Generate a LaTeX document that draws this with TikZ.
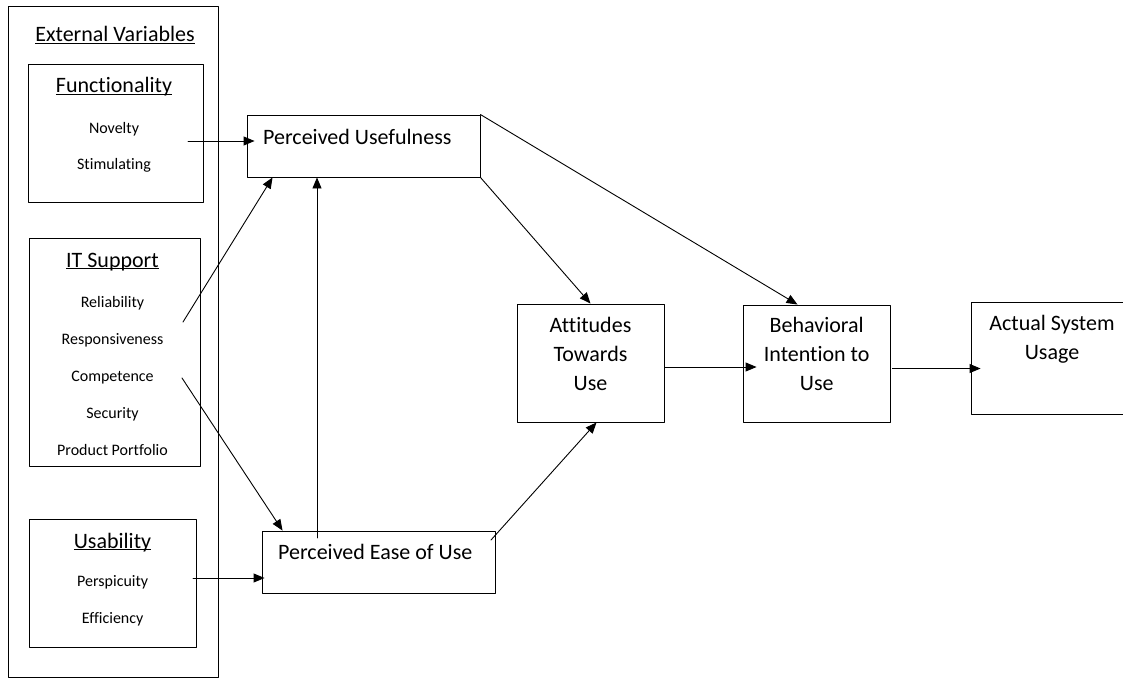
\documentclass[tikz,border=0pt]{standalone}
\usepackage{fontspec}
\setmainfont[Ligatures={NoCommon,NoContextual}]{Carlito}
\usetikzlibrary{arrows.meta,calc}
\newcommand{\undl}[1]{\underline{\smash{#1}}}
\begin{document}
\begin{tikzpicture}[x=1pt,y=-1pt,line join=round,line cap=round,>={Triangle[length=11pt,width=9pt]},
  box/.style={draw,line width=0.9pt,inner sep=0pt},
  big/.style={font=\fontsize{22pt}{29pt}\selectfont,inner sep=0pt,align=center},
  small/.style={font=\fontsize{16pt}{19pt}\selectfont,inner sep=0pt,anchor=base},
  arr/.style={->,line width=0.9pt}]
\useasboundingbox (0,0) rectangle (1123,682);
% external variables
\node[box,minimum width=210pt,minimum height=671pt] (ext) at (113,341.5) {};
\node[big,anchor=base] (extT) at (115,42) {\undl{External Variables}};
\node[box,minimum width=175pt,minimum height=138pt] (func) at (115.5,133) {};
\node[big,anchor=base] (funcT) at (114,93) {\undl{Functionality}};
\node[small] (nov) at (114,133) {Novelty};
\node[small] (stim) at (114,169) {Stimulating};
\node[box,minimum width=171pt,minimum height=228pt] (its) at (114.5,352) {};
\node[big,anchor=base] (itsT) at (112.5,267) {\undl{IT Support}};
\foreach \t [count=\i] in {Reliability,Responsiveness,Competence,Security,Product Portfolio}
  \node[small] (its\i) at (112.5,270+37*\i) {\t};
\node[box,minimum width=167pt,minimum height=128pt] (usa) at (112.5,583) {};
\node[big,anchor=base] (usaT) at (112.5,548) {\undl{Usability}};
\node[small] (persp) at (112.7,586) {Perspicuity};
\node[small] (effic) at (112.7,623) {Efficiency};
% TAM boxes
\node[box,minimum width=233pt,minimum height=62pt] (pu) at (363.5,146) {};
\node[big,anchor=base west] (puT) at (263,144) {Perceived Usefulness};
\node[box,minimum width=233pt,minimum height=62pt] (peou) at (378.5,562) {};
\node[big,anchor=base west] (peouT) at (278,559) {Perceived Ease of Use};
\node[box,minimum width=147pt,minimum height=118pt] (atu) at (590.5,363) {};
\node[big] (atuT) at (590.5,354) {Attitudes\\Towards\\Use};
\node[box,minimum width=147pt,minimum height=117pt] (bi) at (816.5,363.5) {};
\node[big] (biT) at (816.7,354) {Behavioral\\Intention to\\Use};
\node[box,minimum width=162pt,minimum height=112pt] (asu) at (1052,358) {};
\node[big] (asuT) at (1052,339) {Actual System\\Usage};
% connectors
\coordinate (fS) at (188,141);
\coordinate (iS1) at (183,322);
\coordinate (iS2) at (182,378);
\coordinate (uS) at (193,578);
\coordinate (eS1) at (317,538);
\coordinate (eS2) at (491,540);
\coordinate (aE) at ([yshift=-4pt]atu.east);
\coordinate (bE) at ([xshift=2pt,yshift=-5pt]bi.east);
\draw[arr,shorten >=-8pt] (fS) -- (fS -| pu.west);
\draw[arr] (iS1) -- ($(pu.south west)+(26,0)$);
\draw[arr] (iS2) -- ($(peou.north west)+(21,0)$);
\draw[arr,shorten >=-3pt] (uS) -- (uS -| peou.west);
\draw[arr] (eS1) -- (eS1 |- pu.south);
\draw[arr] (pu.south east) -- (atu.north);
\draw[arr] (pu.north east) -- ($(bi.north)+(-19,0)$);
\draw[arr] (eS2) -- ($(atu.south)+(6,0)$);
\draw[arr,shorten >=-14pt] (aE) -- (aE -| bi.west);
\draw[arr,shorten >=-10pt] (bE) -- (bE -| asu.west);
\end{tikzpicture}
\end{document}
